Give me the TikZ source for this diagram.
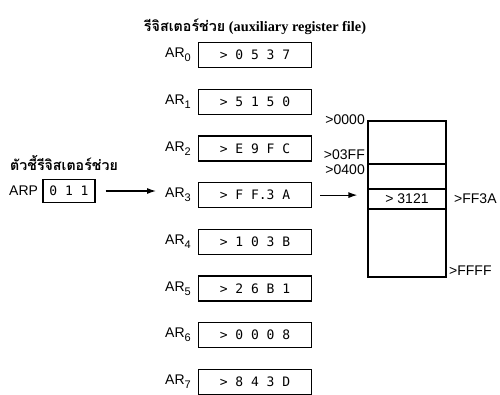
\documentclass[tikz,border=0pt]{standalone}
\usepackage{fontspec}
\setmainfont{Liberation Serif}
\setsansfont{Liberation Sans}
\setmonofont{DejaVu Sans Mono}
\newfontfamily\thaifont[Script=Thai]{Loma}
\usepackage{tikz}
\usetikzlibrary{arrows.meta, positioning, calc}

\begin{document}
\begin{tikzpicture}[x=1pt, y=-1pt,
    lab/.style={font=\fontsize{14}{16}\sffamily, inner sep=1pt},
    regbox/.style={draw, line width=1.2pt, minimum width=113pt, minimum height=25pt,
      inner sep=0pt, font=\fontsize{13}{15}\ttfamily},
    arr/.style={-{Latex[length=9pt, width=6pt]}, line width=1.2pt}]
  \useasboundingbox (0,0) rectangle (500,394);
  \node[font=\fontsize{14.3}{17}\bfseries] (title) at (255,27)
      {{\thaifont รีจิสเตอร์ช่วย} (auxiliary register file)};
  \foreach \i/\val in
      {0/{> 0 5 3 7}, 1/{> 5 1 5 0}, 2/{> E 9 F C}, 3/{> F F.3 A},
       4/{> 1 0 3 B}, 5/{> 2 6 B 1}, 6/{> 0 0 0 8}, 7/{> 8 4 3 D}} {
    \pgfmathsetmacro\yc{55 + 46.7*\i}
    \node[regbox] (reg\i) at (255,\yc) {\val};
    \node[lab, anchor=east] (lab\i) at (192,\yc)
        {AR\raisebox{-4pt}{\fontsize{11}{13}\selectfont\i}};
  }
  \node[lab, anchor=west, font=\fontsize{14.2}{16}\thaifont\bfseries] (arpname) at (9,163)
      {ตัวชี้รีจิสเตอร์ช่วย};
  \node[lab, anchor=west] (arp) at (8,191) {ARP};
  \node[regbox, minimum width=52pt, minimum height=23pt] (arpbox) at (69,191) {0 1 1};
  \draw[arr, shorten <=10pt, shorten >=8pt] (arpbox.east) -- (arpbox.east -| lab3.west);
  \node[draw, line width=1.2pt, minimum width=78pt, minimum height=156pt] (mem) at (407,199) {};
  \node[lab, draw, line width=1.2pt, minimum width=78pt, minimum height=20pt] (slot) at (407,199) {> 3121};
  \draw[line width=1.2pt] (mem.west |- 0,164) -- (mem.east |- 0,164);
  \draw[arr, shorten <=8pt, shorten >=10pt] (reg3.east) -- (reg3.east -| slot.west);
  \node[lab, anchor=east] (m0) at (366,120) {>0000};
  \node[lab, anchor=east] (m1) at (366,155) {>03FF};
  \node[lab, anchor=east] (m2) at (366,170) {>0400};
  \node[lab, anchor=west] (m3) at (453,199) {>FF3A};
  \node[lab, anchor=west] (m4) at (448,271) {>FFFF};
\end{tikzpicture}
\end{document}
